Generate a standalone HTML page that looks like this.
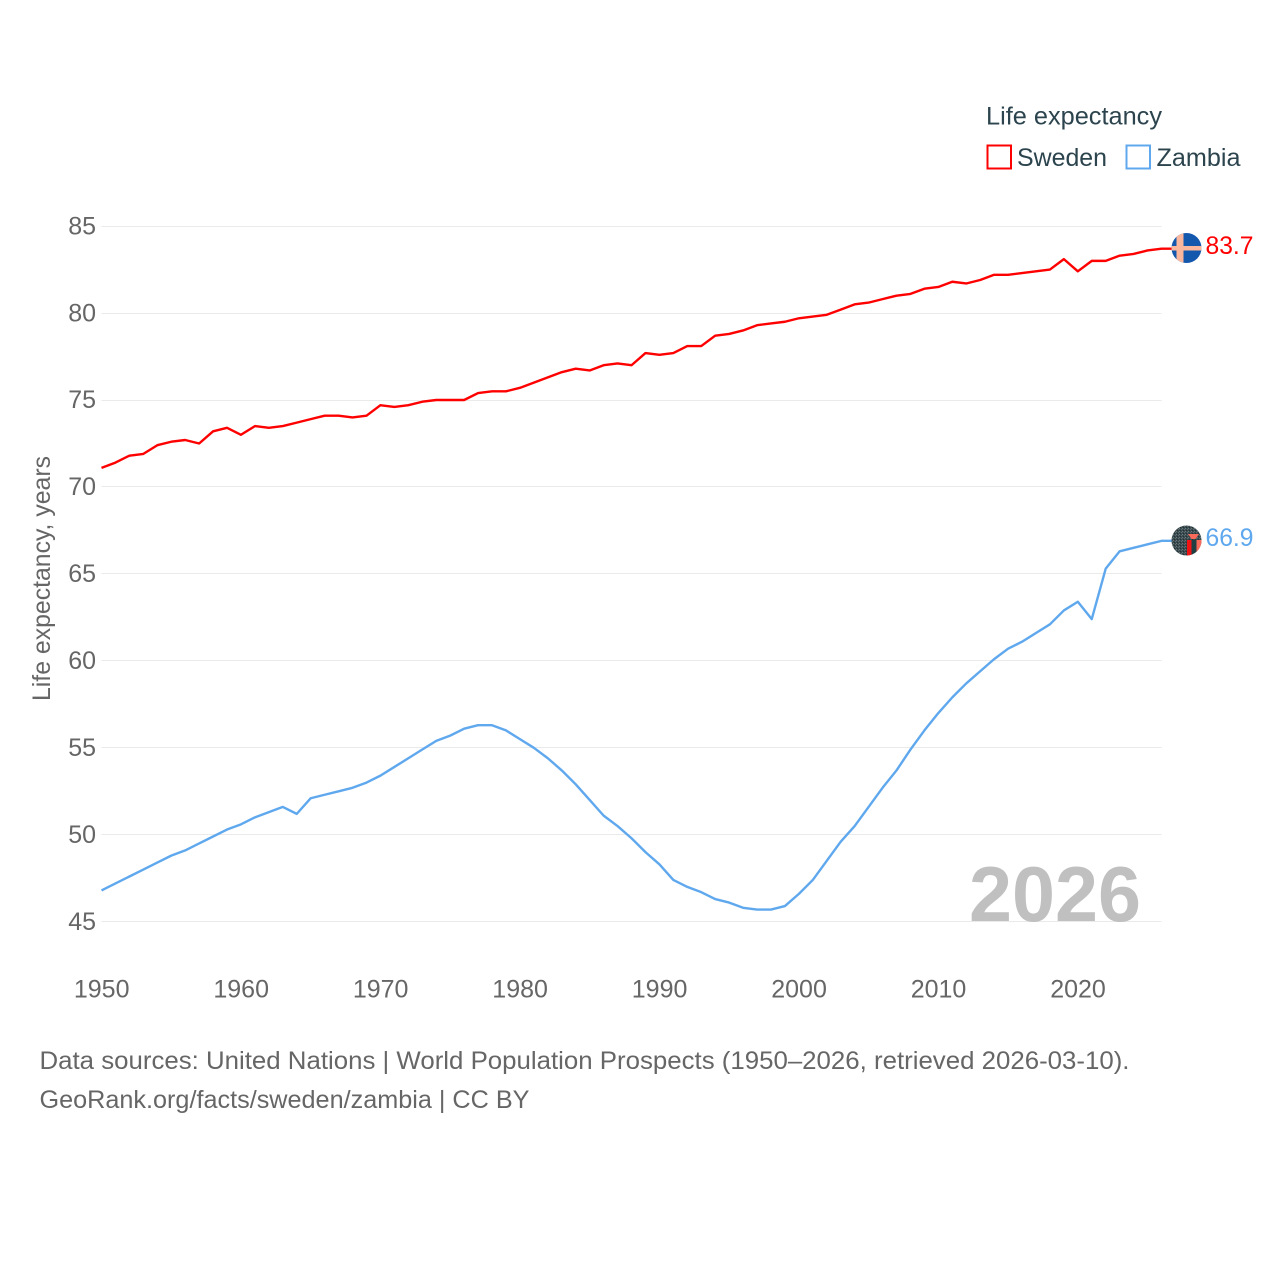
<!DOCTYPE html>
<html lang="en">
<head>
<meta charset="utf-8">
<title>Life expectancy: Sweden and Zambia</title>
<style>
html,body{margin:0;padding:0;background:#fff;}
svg{display:block;font-family:"Liberation Sans",sans-serif;}
</style>
</head>
<body>
<svg id="chart" width="1280" height="1280" viewBox="0 0 1280 1280" xmlns="http://www.w3.org/2000/svg">
  <defs>
    <pattern id="dither" width="3" height="3" patternUnits="userSpaceOnUse">
      <rect width="3" height="3" fill="#3a4a4e"/>
      <rect x="0" y="0" width="1" height="1" fill="#6a7a7c"/>
      <rect x="2" y="1" width="1" height="1" fill="#5c6c70"/>
      <rect x="1" y="2" width="1" height="1" fill="#243236"/>
    </pattern>
  </defs>
  <rect width="1280" height="1280" fill="#ffffff"/>
  <g id="grid"></g>
  <g id="yticks"></g>
  <g id="xticks"></g>
  <text transform="translate(50,701) rotate(-90)" font-size="25" fill="#666666" textLength="245" lengthAdjust="spacingAndGlyphs">Life expectancy, years</text>
  <text x="969" y="921" font-size="78" font-weight="700" fill="#c0c0c0" textLength="172" lengthAdjust="spacingAndGlyphs">2026</text>
  <g id="series"></g>
  <g>
    <clipPath id="clipSweden"><circle cx="1186.5" cy="248" r="15"/></clipPath>
    <g clip-path="url(#clipSweden)">
      <rect x="1171" y="233" width="31" height="31" fill="#1458ad"/>
      <rect x="1176.5" y="233" width="7" height="31" fill="#fbb79d"/>
      <rect x="1171" y="246" width="31" height="4.5" fill="#fbb79d"/>
    </g>
  </g>
  <g>
    <clipPath id="clipZambia"><circle cx="1186.5" cy="540.5" r="15"/></clipPath>
    <g clip-path="url(#clipZambia)">
      <rect x="1171" y="525" width="31" height="31" fill="url(#dither)"/>
      <rect x="1187" y="540" width="4.5" height="17" fill="#f01414"/>
      <rect x="1191.5" y="540" width="5" height="17" fill="#1f3f42"/>
      <rect x="1196.5" y="540" width="5" height="12" fill="#f86a5a"/>
      <path d="M1188 534 L1199 534 L1195.5 539 L1191.5 539 Z" fill="#f86a5a"/>
    </g>
  </g>
  <text id="labelSweden" x="1205.5" y="254" font-size="25" fill="#ff0000" textLength="48" lengthAdjust="spacingAndGlyphs"></text>
  <text id="labelZambia" x="1205.5" y="546" font-size="25" fill="#5fa8ee" textLength="48" lengthAdjust="spacingAndGlyphs"></text>
  <g>
    <text x="986" y="124.5" font-size="25" fill="#2c444e" textLength="176" lengthAdjust="spacingAndGlyphs">Life expectancy</text>
    <g>
      <rect x="987.5" y="145.5" width="23.5" height="23" fill="none" stroke="#ff0000" stroke-width="2"/>
      <text x="1017" y="166" font-size="25" fill="#2c444e" textLength="90" lengthAdjust="spacingAndGlyphs">Sweden</text>
    </g>
    <g>
      <rect x="1126.5" y="145.5" width="23.5" height="23" fill="none" stroke="#5fa8ee" stroke-width="2"/>
      <text x="1156.5" y="166" font-size="25" fill="#2c444e" textLength="84" lengthAdjust="spacingAndGlyphs">Zambia</text>
    </g>
  </g>
  <text x="39.5" y="1069" font-size="25" fill="#666666" textLength="1090" lengthAdjust="spacingAndGlyphs">Data sources: United Nations | World Population Prospects (1950–2026, retrieved 2026-03-10).</text>
  <text x="39.5" y="1108" font-size="25" fill="#666666" textLength="490" lengthAdjust="spacingAndGlyphs">GeoRank.org/facts/sweden/zambia | CC BY</text>
</svg>
<script>
const startYear = 1950;
const yTickValues = [45, 50, 55, 60, 65, 70, 75, 80, 85];
const xTickValues = [1950, 1960, 1970, 1980, 1990, 2000, 2010, 2020];
const swedenValues = [
  71.1,71.4,71.8,71.9,72.4,72.6,72.7,72.5,73.2,73.4,
  73.0,73.5,73.4,73.5,73.7,73.9,74.1,74.1,74.0,74.1,
  74.7,74.6,74.7,74.9,75.0,75.0,75.0,75.4,75.5,75.5,
  75.7,76.0,76.3,76.6,76.8,76.7,77.0,77.1,77.0,77.7,
  77.6,77.7,78.1,78.1,78.7,78.8,79.0,79.3,79.4,79.5,
  79.7,79.8,79.9,80.2,80.5,80.6,80.8,81.0,81.1,81.4,
  81.5,81.8,81.7,81.9,82.2,82.2,82.3,82.4,82.5,83.1,
  82.4,83.0,83.0,83.3,83.4,83.6,83.7
];
const zambiaValues = [
  46.8,47.2,47.6,48.0,48.4,48.8,49.1,49.5,49.9,50.3,
  50.6,51.0,51.3,51.6,51.2,52.1,52.3,52.5,52.7,53.0,
  53.4,53.9,54.4,54.9,55.4,55.7,56.1,56.3,56.3,56.0,
  55.5,55.0,54.4,53.7,52.9,52.0,51.1,50.5,49.8,49.0,
  48.3,47.4,47.0,46.7,46.3,46.1,45.8,45.7,45.7,45.9,
  46.6,47.4,48.5,49.6,50.5,51.6,52.7,53.7,54.9,56.0,
  57.0,57.9,58.7,59.4,60.1,60.7,61.1,61.6,62.1,62.9,
  63.4,62.4,65.3,66.3,66.5,66.7,66.9
];

const NS = 'http://www.w3.org/2000/svg';
const plotLeft = 101.5, plotRight = 1161.5;
const yearSpan = 76;
function xScale(year) { return plotLeft + (year - startYear) * (plotRight - plotLeft) / yearSpan; }
function yScale(v) { return 921.7 - (v - 45) * 17.39; }

const gridG = document.getElementById('grid');
const yG = document.getElementById('yticks');
const xG = document.getElementById('xticks');
const seriesG = document.getElementById('series');

yTickValues.forEach(function (v) {
  const gy = Math.floor(yScale(v)) + 0.5;
  const line = document.createElementNS(NS, 'line');
  
  
  line.setAttribute('x1', plotLeft);
  line.setAttribute('x2', plotRight);
  line.setAttribute('y1', gy);
  line.setAttribute('y2', gy);
  line.setAttribute('stroke', '#eaeaea');
  line.setAttribute('stroke-width', '1');
  gridG.appendChild(line);

  const t = document.createElementNS(NS, 'text');
  
  
  t.setAttribute('x', 96);
  t.setAttribute('y', yScale(v) + 8.2);
  t.setAttribute('text-anchor', 'end');
  t.setAttribute('font-size', '25');
  t.setAttribute('fill', '#666666');
  t.textContent = String(v);
  yG.appendChild(t);
});

xTickValues.forEach(function (yr) {
  const t = document.createElementNS(NS, 'text');
  
  
  t.setAttribute('x', xScale(yr) + 0.2);
  t.setAttribute('y', 997.5);
  t.setAttribute('text-anchor', 'middle');
  t.setAttribute('font-size', '25');
  t.setAttribute('fill', '#666666');
  t.textContent = String(yr);
  xG.appendChild(t);
});

function drawSeries(values, color) {
  const pts = values.map(function (v, i) {
    return xScale(startYear + i).toFixed(2) + ',' + yScale(v).toFixed(2);
  });
  const last = values[values.length - 1];
  pts.push((xScale(startYear + values.length - 1) + 10).toFixed(2) + ',' + yScale(last).toFixed(2));
  const line = document.createElementNS(NS, 'polyline');
  
  
  line.setAttribute('points', pts.join(' '));
  line.setAttribute('fill', 'none');
  line.setAttribute('stroke', color);
  line.setAttribute('stroke-width', '2.4');
  line.setAttribute('stroke-linejoin', 'round');
  seriesG.appendChild(line);
}
drawSeries(swedenValues, '#ff0000');
drawSeries(zambiaValues, '#5fa8ee');

document.getElementById('labelSweden').textContent = swedenValues[swedenValues.length - 1].toFixed(1);
document.getElementById('labelZambia').textContent = zambiaValues[zambiaValues.length - 1].toFixed(1);
</script>
</body>
</html>
